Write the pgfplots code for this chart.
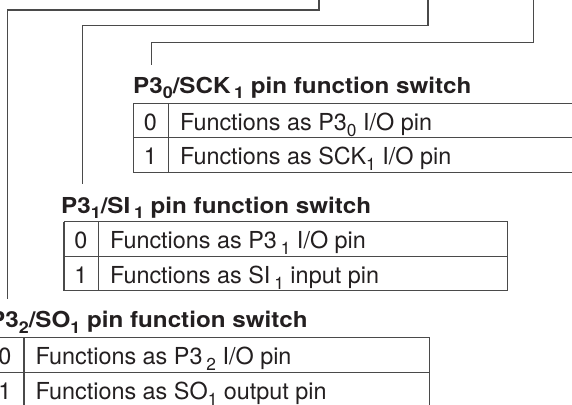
\documentclass[border=0pt]{standalone}
\usepackage{pgfplots}
\pgfplotsset{compat=1.18}
\usepackage{fontspec}
\setmainfont{TeX Gyre Heros}
\newfontfamily\rowfont{TeX Gyre Heros}
\newfontfamily\titlefont{TeX Gyre Heros}[FakeStretch=1.1]
\definecolor{txt}{HTML}{231F20}
\definecolor{ln}{HTML}{4A4A4A}
\newcommand\sub[1]{\raisebox{-0.26em}{\scalebox{0.74}{#1}}}
\newcommand\rowtxt{\rowfont\fontsize{23.4}{26}\selectfont\color{txt}}
\newcommand\ttltxt{\titlefont\bfseries\fontsize{22}{25}\selectfont\color{txt}}
\begin{document}
\begin{tikzpicture}
\begin{axis}[
  width=572pt, height=404pt, scale only axis,
  xmin=0, xmax=572, ymin=0, ymax=404, y dir=reverse,
  hide axis, clip=true,
  every axis plot/.append style={mark=none},
  conn/.style={draw=ln, line width=1.1pt},
  tb/.style={draw=ln, line width=1.2pt},
]
% connector lines
\addplot[conn] coordinates {(319,-5) (319,10) (7.3,10) (7.3,299)};
\addplot[conn] coordinates {(428,-5) (428,25.7) (82.3,25.7) (82.3,184)};
\addplot[conn] coordinates {(533.3,-5) (533.3,42.3) (151.7,42.3) (151.7,65)};
% table 1
\addplot[tb] coordinates {(133.3,103.3) (600,103.3)};
\addplot[tb] coordinates {(133.3,137.7) (600,137.7)};
\addplot[tb] coordinates {(133.3,172.3) (600,172.3)};
\addplot[tb] coordinates {(133.3,103.3) (133.3,172.3)};
\addplot[tb] coordinates {(168.3,103.3) (168.3,172.3)};
% table 2
\addplot[tb] coordinates {(64,221.7) (507.7,221.7) (507.7,290.7) (64,290.7) (64,221.7)};
\addplot[tb] coordinates {(64,256.7) (507.7,256.7)};
\addplot[tb] coordinates {(98.7,221.7) (98.7,290.7)};
% table 3
\addplot[tb] coordinates {(-11,337.7) (429.3,337.7) (429.3,420)};
\addplot[tb] coordinates {(-11,372.7) (429.3,372.7)};
\addplot[tb] coordinates {(24,337.7) (24,420)};
% titles
\node[anchor=base west, inner sep=0pt, font=\ttltxt] at (axis cs:133,93) {P3\sub{0}/SCK\,\sub{1} pin function switch};
\node[anchor=base west, inner sep=0pt, font=\ttltxt] at (axis cs:61,213) {P3\sub{1}/SI\,\sub{1} pin function switch};
\node[anchor=base west, inner sep=0pt, font=\ttltxt] at (axis cs:-11,327.5) {P3\sub{2}/SO\sub{1} pin function switch};
% table 1 rows
\node[anchor=base, inner sep=0pt, font=\rowtxt] at (axis cs:150.5,130.5) {0};
\node[anchor=base, inner sep=0pt, font=\rowtxt] at (axis cs:150.5,164.9) {1};
\node[anchor=base west, inner sep=0pt, font=\rowtxt] at (axis cs:179.8,130.5) {Functions as P3\sub{0} I/O pin};
\node[anchor=base west, inner sep=0pt, font=\rowtxt] at (axis cs:179.8,164.9) {Functions as SCK\sub{1} I/O pin};
% table 2 rows
\node[anchor=base, inner sep=0pt, font=\rowtxt] at (axis cs:81,248.9) {0};
\node[anchor=base, inner sep=0pt, font=\rowtxt] at (axis cs:81,283.9) {1};
\node[anchor=base west, inner sep=0pt, font=\rowtxt] at (axis cs:109.8,248.9) {Functions as P3\,\sub{1} I/O pin};
\node[anchor=base west, inner sep=0pt, font=\rowtxt] at (axis cs:109.8,283.9) {Functions as SI\,\sub{1} input pin};
% table 3 rows
\node[anchor=base, inner sep=0pt, font=\rowtxt] at (axis cs:5,364.9) {0};
\node[anchor=base, inner sep=0pt, font=\rowtxt] at (axis cs:5,399.9) {1};
\node[anchor=base west, inner sep=0pt, font=\rowtxt] at (axis cs:35.4,364.9) {Functions as P3\,\sub{2} I/O pin};
\node[anchor=base west, inner sep=0pt, font=\rowtxt] at (axis cs:35.4,399.9) {Functions as SO\sub{1} output pin};
\end{axis}
\pgfresetboundingbox
\useasboundingbox (current axis.south west) rectangle (current axis.north east);
\end{tikzpicture}
\end{document}
